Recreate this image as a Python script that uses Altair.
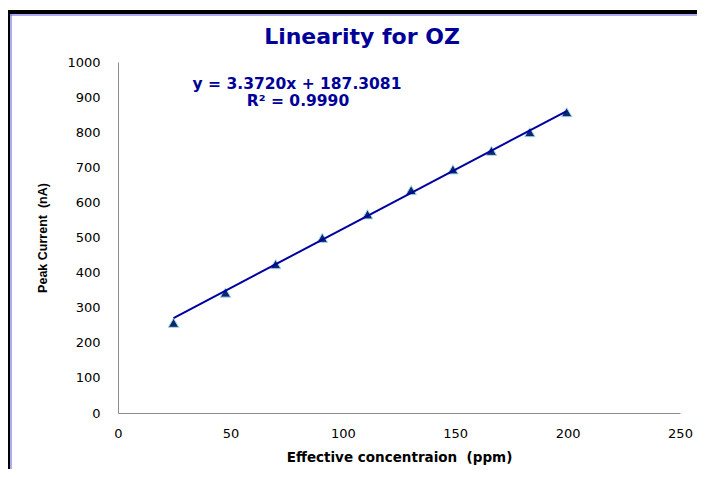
import altair as alt
import pandas as pd

# ---- data ----
conc = [24.7, 47.8, 70.1, 90.9, 111.0, 130.4, 149.0, 166.1, 183.2, 199.6]
current = [257, 343, 424, 499, 566, 635, 694, 747, 800, 857]
slope = 3.3720
intercept = 187.3081
r_squared = 0.9990
x_ticks = [0, 50, 100, 150, 200, 250]
y_ticks = [0, 100, 200, 300, 400, 500, 600, 700, 800, 900, 1000]

title_text = "Linearity for OZ"
eq_line1 = f"y = {slope:.4f}x + {intercept:.4f}"
eq_line2 = f"R\u00b2 = {r_squared:.4f}"

pts = pd.DataFrame({"conc": conc, "current": current})
fit = pd.DataFrame({"conc": [min(conc), max(conc)]})
fit["current"] = slope * fit["conc"] + intercept
one = pd.DataFrame({"a": [0]})

NAVY = "#000099"
axis_common = dict(grid=False, ticks=False, tickSize=0, domainColor="#8c8c8c",
                   domainWidth=1, labelFont="DejaVu Sans", labelFontSize=13,
                   labelColor="black", titleColor="black", labelOverlap=False,
                   labelFlush=False, format="d")

x_enc = alt.X("conc:Q", scale=alt.Scale(domain=[0, 250], nice=False, zero=True),
              axis=alt.Axis(values=x_ticks, tickCount=6,
                            title="Effective concentraion\u00a0\u00a0(ppm)",
                            labelPadding=14, titlePadding=10, titleFont="DejaVu Sans",
                            titleFontSize=13.5, titleFontWeight="bold", **axis_common))
y_enc = alt.Y("current:Q", scale=alt.Scale(domain=[0, 1000], nice=False, zero=True),
              axis=alt.Axis(values=y_ticks, tickCount=11,
                            title="Peak Current\u00a0\u00a0(nA)",
                            labelPadding=18, titlePadding=17, titleFont="Liberation Sans",
                            titleFontSize=12.5, titleFontWeight="bold", **axis_common))

points = alt.Chart(pts).mark_point(shape="triangle-up", filled=True, size=110,
                                   fill="#0B2A6E", stroke="#A6D9E6", strokeWidth=1,
                                   opacity=1).encode(x=x_enc, y=y_enc)

line = alt.Chart(fit).mark_line(color="#0000A0", strokeWidth=2).encode(
    x=x_enc, y=y_enc)

def label(txt, x, y, size):
    return alt.Chart(one).mark_text(text=txt, align="center", baseline="alphabetic",
                                    font="DejaVu Sans", fontSize=size, fontWeight="bold",
                                    color=NAVY).encode(x=alt.value(x), y=alt.value(y))

title = label(title_text, 244, -18, 22)
eq1 = label(eq_line1, 179, 27, 15.5)
eq2 = label(eq_line2, 180, 44, 15.5)

# frame decoration (black band + thin blue line on the left and top)
left_black = alt.Chart(one).mark_rect(color="black").encode(
    x=alt.value(-110), x2=alt.value(-108), y=alt.value(-52), y2=alt.value(420))
top_black = alt.Chart(one).mark_rect(color="black").encode(
    x=alt.value(-110), x2=alt.value(600), y=alt.value(-52), y2=alt.value(-48))
left_blue = alt.Chart(one).mark_rect(color="#5a5ae6").encode(
    x=alt.value(-107.5), x2=alt.value(-106.5), y=alt.value(-48), y2=alt.value(420))
top_blue = alt.Chart(one).mark_rect(color="#5a5ae6").encode(
    x=alt.value(-107.5), x2=alt.value(600), y=alt.value(-47.5), y2=alt.value(-46.5))

chart = alt.layer(left_black, top_black, left_blue, top_blue, points, line,
                  title, eq1, eq2).properties(
    width=562, height=351,
    padding={"left": 110, "top": 54, "right": 17, "bottom": 56},
    autosize=alt.AutoSizeParams(type="none"),
    background="white",
).configure_view(strokeWidth=0)

chart.save("out.html", embed_options={"renderer": "svg", "actions": False})
